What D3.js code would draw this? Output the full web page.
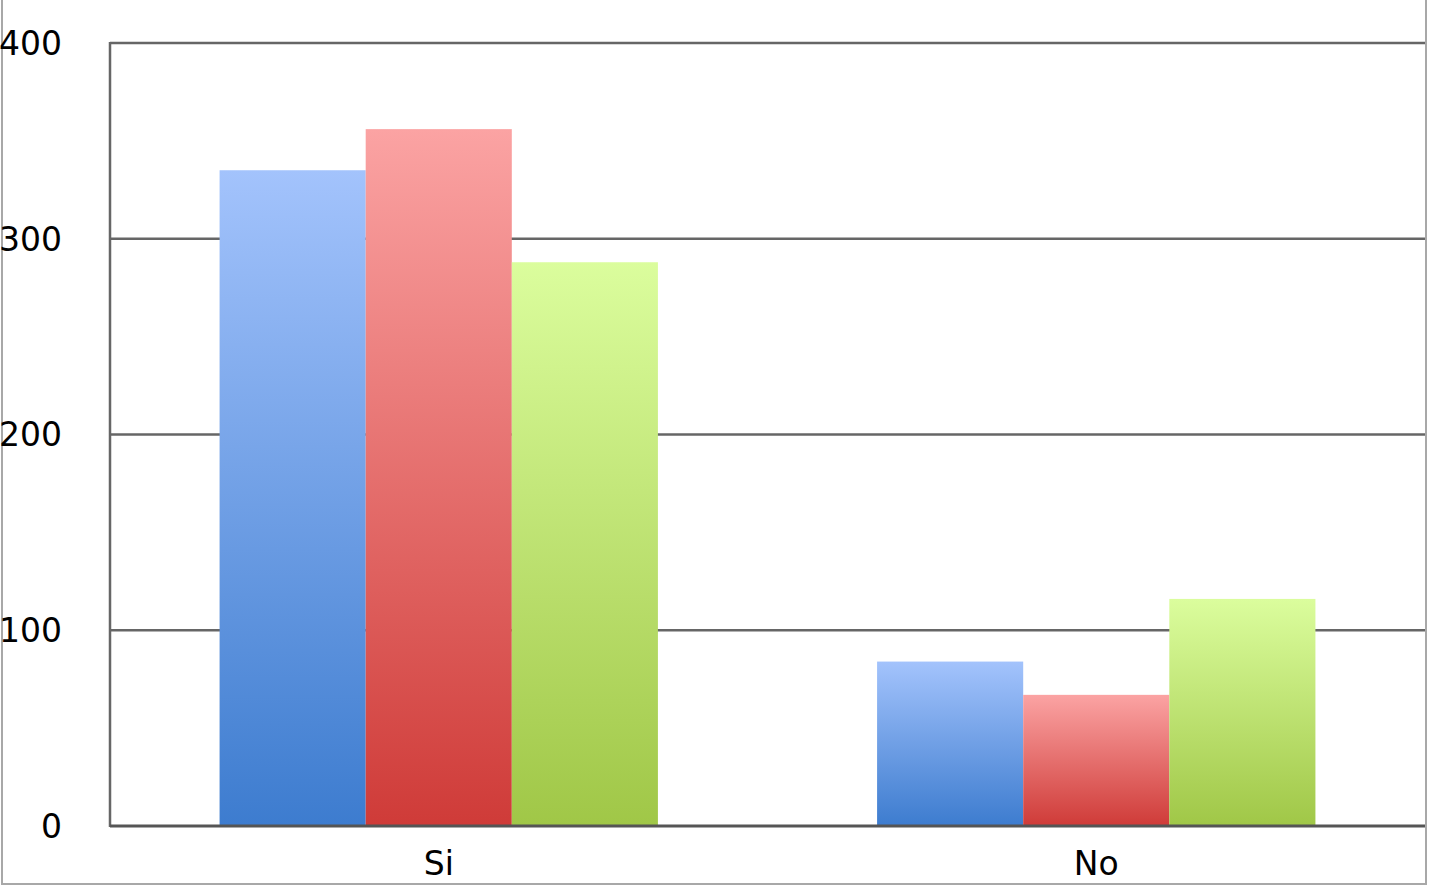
<!DOCTYPE html>
<html>
<head>
<meta charset="utf-8">
<script src="https://cdn.jsdelivr.net/npm/d3@7"></script>
<style>
  html, body { margin: 0; padding: 0; background: #fff; }
  svg { display: block; }
  text { font-family: "DejaVu Sans", "Liberation Sans", sans-serif; fill: #000; }
</style>
</head>
<body>
<svg width="1429" height="887"></svg>
<script>
const categories = ["Si", "No"];
const series = ["s1", "s2", "s3"];
const values = {
  s1: [335, 84],
  s2: [356, 67],
  s3: [288, 116]
};
const yTicks = [0, 100, 200, 300, 400];

// top / bottom gradient stops per series
const colors = {
  s1: ["#a3c3fc", "#3d7ccf"],
  s2: ["#fba3a3", "#cf3b38"],
  s3: ["#dbfd9d", "#a0c747"]
};

const svg = d3.select("svg");
const plot = { left: 110, right: 1425, top: 43, bottom: 826 };

const x = d3.scaleBand().domain(categories).range([plot.left, plot.right])
  .paddingInner(1 / 3).paddingOuter(1 / 6);
const xs = d3.scaleBand().domain(series).range([0, x.bandwidth()]);
const y = d3.scaleLinear().domain([0, 400]).range([plot.bottom, plot.top]);

const defs = svg.append("defs");
series.forEach(s => {
  const g = defs.append("linearGradient").attr("id", "g-" + s)
    .attr("x1", 0).attr("y1", 0).attr("x2", 0).attr("y2", 1);
  g.append("stop").attr("offset", "0%").attr("stop-color", colors[s][0]);
  g.append("stop").attr("offset", "100%").attr("stop-color", colors[s][1]);
});

// outer frame
svg.append("path")
  .attr("d", "M2,0 V884 H1426 V0")
  .attr("fill", "none").attr("stroke", "#a8a8a8").attr("stroke-width", 2);

// gridlines
svg.append("g").selectAll("line").data(yTicks.slice(1)).join("line")
  .attr("x1", plot.left).attr("x2", plot.right)
  .attr("y1", d => y(d)).attr("y2", d => y(d))
  .attr("stroke", "#666").attr("stroke-width", 2.5);

// left plot border
svg.append("line").attr("x1", plot.left).attr("x2", plot.left)
  .attr("y1", plot.top - 1).attr("y2", plot.bottom + 1)
  .attr("stroke", "#666").attr("stroke-width", 2.5);

// y tick labels
svg.append("g").selectAll("text").data(yTicks).join("text")
  .attr("x", 62).attr("y", d => y(d))
  .attr("text-anchor", "end").attr("dy", "0.36em")
  .attr("font-size", 33)
  .text(d => d);

// bars
const rows = [];
categories.forEach((c, i) => series.forEach(s => rows.push({ c, s, v: values[s][i] })));
svg.append("g").selectAll("rect").data(rows).join("rect")
  .attr("x", d => x(d.c) + xs(d.s))
  .attr("width", xs.bandwidth())
  .attr("y", d => y(d.v))
  .attr("height", d => y(0) - y(d.v))
  .attr("fill", d => `url(#g-${d.s})`);

// bottom axis line
svg.append("line").attr("x1", plot.left).attr("x2", plot.right)
  .attr("y1", plot.bottom).attr("y2", plot.bottom)
  .attr("stroke", "#555").attr("stroke-width", 3);

// x labels
svg.append("g").selectAll("text").data(categories).join("text")
  .attr("x", d => x(d) + x.bandwidth() / 2).attr("y", 863)
  .attr("text-anchor", "middle").attr("dy", "0.36em")
  .attr("font-size", 33)
  .text(d => d);
</script>
</body>
</html>
